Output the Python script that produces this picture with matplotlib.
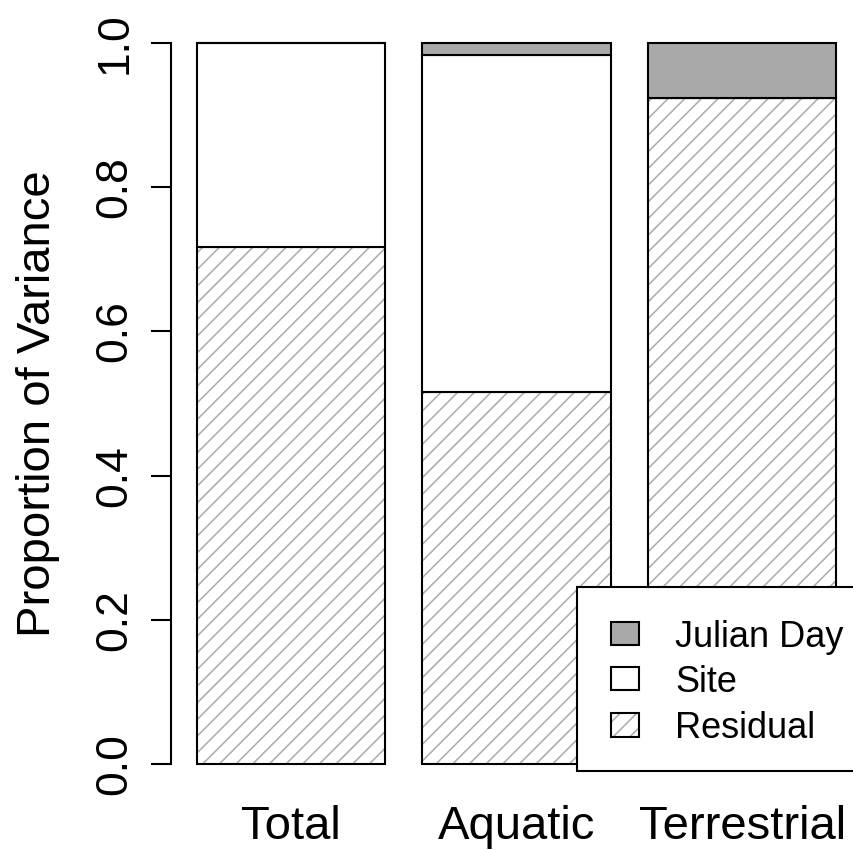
import matplotlib
matplotlib.use("Agg")
import matplotlib.pyplot as plt
from matplotlib.patches import Rectangle
import numpy as np

plt.rcParams['font.family'] = ['Liberation Sans', 'DejaVu Sans']
plt.rcParams['hatch.linewidth'] = 1.1

# Variance components per response group (stacked bottom -> top)
categories = ["Total", "Aquatic", "Terrestrial"]
residual = [0.717, 0.516, 0.923]
site = [0.283, 0.467, 0.0]
julian_day = [0.0, 0.017, 0.077]
legend_labels = ["Julian Day", "Site", "Residual"]
ytick_values = [0.0, 0.2, 0.4, 0.6, 0.8, 1.0]
ytick_labels = ["0.0", "0.2", "0.4", "0.6", "0.8", "1.0"]

JULIAN_COLOR = "#a9a9a9"
HATCH_COLOR = "#aaaaaa"
HATCH = "//"
EDGE_LW = 1.5

W, H = 854, 850
fig = plt.figure(figsize=(W / 100, H / 100), dpi=100)
ax = fig.add_axes([171.3 / W, 57 / H, 690.4 / W, 779 / H])

bar_left = np.array([0.2, 1.4, 2.6])
bar_width = 1.0
centers = bar_left + bar_width / 2

bottom = np.zeros(len(categories))
# residual: grey diagonal hatching on white
ax.bar(centers, residual, bar_width, bottom=bottom, color="white",
       edgecolor=HATCH_COLOR, hatch=HATCH, linewidth=0)
ax.bar(centers, residual, bar_width, bottom=bottom, color="none",
       edgecolor="black", linewidth=EDGE_LW)
bottom += np.array(residual)
# site: plain white
ax.bar(centers, site, bar_width, bottom=bottom, color="white",
       edgecolor="black", linewidth=EDGE_LW)
bottom += np.array(site)
# julian day: grey
ax.bar(centers, julian_day, bar_width, bottom=bottom, color=JULIAN_COLOR,
       edgecolor="black", linewidth=EDGE_LW)

ax.set_xlim(0.064, 3.736)
ax.set_ylim(-0.04, 1.04)

for side in ("top", "right", "bottom"):
    ax.spines[side].set_visible(False)
ax.spines["left"].set_bounds(0, 1)
ax.spines["left"].set_linewidth(EDGE_LW)

ax.set_yticks(ytick_values, ytick_labels)
ax.tick_params(axis="y", length=14.4, width=EDGE_LW, pad=11.5,
               labelsize=32, labelrotation=90)
for lbl in ax.get_yticklabels():
    lbl.set_va("center")

ax.set_xticks(centers, categories)
ax.tick_params(axis="x", length=0, pad=8.5, labelsize=34)

ax.set_ylabel("Proportion of Variance", fontsize=34)
ax.yaxis.set_label_coords(-0.161, 0.5)

# legend box in the lower right, running past the right edge
def fx(px):
    return px / W

def fy(py):
    return 1 - py / H

frame = Rectangle((fx(577), fy(771)), fx(920) - fx(577), fy(587) - fy(771),
                  transform=fig.transFigure, facecolor="white",
                  edgecolor="black", linewidth=EDGE_LW, zorder=5)
fig.add_artist(frame)

rows = [(622, 645), (667, 690), (713, 737)]
styles = [dict(facecolor=JULIAN_COLOR, hatch=None),
          dict(facecolor="white", hatch=None),
          dict(facecolor="white", hatch=HATCH)]
for (top, bot), style, label in zip(rows, styles, legend_labels):
    if style["hatch"]:
        fig.add_artist(Rectangle((fx(611), fy(bot)), fx(639) - fx(611),
                                 fy(top) - fy(bot), transform=fig.transFigure,
                                 facecolor="white", edgecolor=HATCH_COLOR,
                                 hatch=style["hatch"], linewidth=0, zorder=6))
        fig.add_artist(Rectangle((fx(611), fy(bot)), fx(639) - fx(611),
                                 fy(top) - fy(bot), transform=fig.transFigure,
                                 facecolor="none", edgecolor="black",
                                 linewidth=EDGE_LW, zorder=7))
    else:
        fig.add_artist(Rectangle((fx(611), fy(bot)), fx(639) - fx(611),
                                 fy(top) - fy(bot), transform=fig.transFigure,
                                 facecolor=style["facecolor"], edgecolor="black",
                                 linewidth=EDGE_LW, zorder=6))
    fig.text(fx(675), fy((top + bot) / 2), label, fontsize=26,
             ha="left", va="center_baseline", zorder=8)

fig.savefig("out.png", dpi=100)
